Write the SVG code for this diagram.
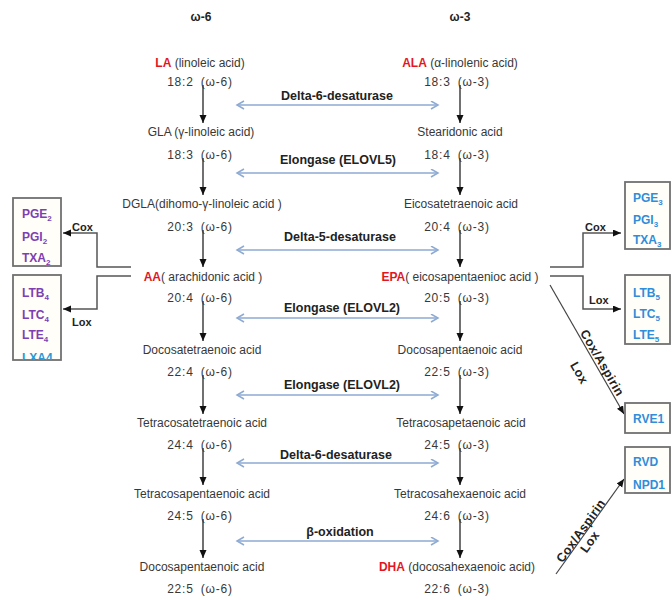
<svg xmlns="http://www.w3.org/2000/svg" width="672" height="600" viewBox="0 0 672 600">
<defs>
<style>
.t{font-family:"Liberation Sans",Arial,sans-serif;font-size:12px;fill:#383838;text-anchor:middle}
.q{font-family:"Liberation Sans",Arial,sans-serif;font-size:12px;fill:#383838;text-anchor:middle;word-spacing:3px;letter-spacing:0.8px}
.red{fill:#e3161f;font-weight:bold}
.h{font-family:"Liberation Sans",Arial,sans-serif;font-size:12px;font-weight:bold;fill:#222;text-anchor:middle}
.e{font-family:"Liberation Sans",Arial,sans-serif;font-size:12.5px;font-weight:bold;fill:#222;text-anchor:middle}
.l{font-family:"Liberation Sans",Arial,sans-serif;font-size:11px;font-weight:bold;fill:#222}
.dl{font-family:"Liberation Sans",Arial,sans-serif;font-size:12.5px;font-weight:bold;fill:#222;text-anchor:middle;letter-spacing:0.4px}
.p{font-family:"Liberation Sans",Arial,sans-serif;font-size:12px;font-weight:bold;fill:#7d3fb2}
.b{font-family:"Liberation Sans",Arial,sans-serif;font-size:12px;font-weight:bold;fill:#2f8dd9}
.box{fill:#fffef9;stroke:#707070;stroke-width:1.8}
.v{stroke:#111;stroke-width:1.2;fill:none;marker-end:url(#ah)}
.d{stroke:#8eaad2;stroke-width:1.6;fill:none;marker-start:url(#ch);marker-end:url(#ch)}
.ca{stroke:#555;stroke-width:1.5;fill:none;marker-end:url(#ah)}
.g{stroke:#444;stroke-width:1.2;fill:none;marker-end:url(#ah)}
</style>
<marker id="ah" markerUnits="userSpaceOnUse" markerWidth="9" markerHeight="8" refX="8" refY="3.5" orient="auto">
<path d="M0,0 L8,3.5 L0,7 z" fill="#111"/>
</marker>
<marker id="ch" markerUnits="userSpaceOnUse" markerWidth="10" markerHeight="10" refX="8" refY="4.5" orient="auto-start-reverse">
<path d="M1,0.5 L8,4.5 L1,8.5" fill="none" stroke="#8eaad2" stroke-width="1.5"/>
</marker>
<clipPath id="clipL2"><rect x="13" y="275" width="48" height="85"/></clipPath>
</defs>
<rect width="672" height="600" fill="#fff"/>

<g id="headers">
<text class="h" x="201" y="21">ω-6</text>
<text class="h" x="460" y="21">ω-3</text>
</g>

<g id="connectors">
<line class="v" x1="203" y1="85" x2="203" y2="123"/>
<line class="v" x1="203" y1="158" x2="203" y2="195"/>
<line class="v" x1="203" y1="230" x2="203" y2="267"/>
<line class="v" x1="203" y1="301" x2="203" y2="341"/>
<line class="v" x1="203" y1="375" x2="203" y2="414"/>
<line class="v" x1="203" y1="448" x2="203" y2="485"/>
<line class="v" x1="203" y1="519" x2="203" y2="558"/>
<line class="v" x1="460" y1="85" x2="460" y2="123"/>
<line class="v" x1="460" y1="158" x2="460" y2="195"/>
<line class="v" x1="460" y1="230" x2="460" y2="267"/>
<line class="v" x1="460" y1="301" x2="460" y2="341"/>
<line class="v" x1="460" y1="375" x2="460" y2="414"/>
<line class="v" x1="460" y1="448" x2="460" y2="485"/>
<line class="v" x1="460" y1="519" x2="460" y2="558"/>

<line class="d" x1="237" y1="105" x2="438" y2="105"/>
<line class="d" x1="237" y1="173" x2="438" y2="173"/>
<line class="d" x1="237" y1="250" x2="438" y2="250"/>
<line class="d" x1="237" y1="318" x2="438" y2="318"/>
<line class="d" x1="237" y1="395" x2="438" y2="395"/>
<line class="d" x1="237" y1="463" x2="438" y2="463"/>
<line class="d" x1="237" y1="541" x2="438" y2="541"/>

<polyline class="ca" points="131,267 97,267 97,233 63,233"/>
<polyline class="ca" points="131,276 97,276 97,309 63,309"/>
<polyline class="ca" points="550,267 583,267 583,233 621,233"/>
<polyline class="ca" points="550,276 583,276 583,309 621,309"/>
<line class="g" x1="550" y1="285" x2="624" y2="414"/>
<line class="g" x1="556" y1="574" x2="624" y2="479"/>

<text class="l" x="72" y="231">Cox</text>
<text class="l" x="72" y="326">Lox</text>
<text class="l" x="585" y="231">Cox</text>
<text class="l" x="589" y="304">Lox</text>

<text class="e" x="337" y="100">Delta-6-desaturase</text>
<text class="e" x="338" y="164">Elongase (ELOVL5)</text>
<text class="e" x="340" y="241">Delta-5-desaturase</text>
<text class="e" x="342" y="312">Elongase (ELOVL2)</text>
<text class="e" x="342" y="389">Elongase (ELOVL2)</text>
<text class="e" x="336" y="459">Delta-6-desaturase</text>
<text class="e" x="340" y="536">β-oxidation</text>

<g transform="translate(602,363) rotate(59.8)"><text class="dl" x="0" y="4">Cox/Aspirin</text></g>
<g transform="translate(579,373) rotate(59.8)"><text class="dl" x="0" y="4">Lox</text></g>
<g transform="translate(581,531) rotate(-54.3)"><text class="dl" x="0" y="4">Cox/Aspirin</text></g>
<g transform="translate(590,542) rotate(-54.3)"><text class="dl" x="0" y="4">Lox</text></g>
</g>

<g id="n6-1"><text class="t" x="200" y="67"><tspan class="red">LA</tspan> (linoleic acid)</text><text class="q" x="200" y="86">18:2 (ω-6)</text></g>
<g id="n6-2"><text class="t" x="201" y="136">GLA (γ-linoleic acid)</text><text class="q" x="200" y="159">18:3 (ω-6)</text></g>
<g id="n6-3"><text class="t" x="202" y="208">DGLA(dihomo-γ-linoleic acid )</text><text class="q" x="200" y="231">20:3 (ω-6)</text></g>
<g id="n6-4"><text class="t" x="203" y="281"><tspan class="red">AA</tspan>( arachidonic acid )</text><text class="q" x="200" y="302">20:4 (ω-6)</text></g>
<g id="n6-5"><text class="t" x="202" y="354">Docosatetraenoic acid</text><text class="q" x="200" y="376">22:4 (ω-6)</text></g>
<g id="n6-6"><text class="t" x="202" y="427">Tetracosatetraenoic acid</text><text class="q" x="200" y="449">24:4 (ω-6)</text></g>
<g id="n6-7"><text class="t" x="202" y="498">Tetracosapentaenoic acid</text><text class="q" x="200" y="520">24:5 (ω-6)</text></g>
<g id="n6-8"><text class="t" x="202" y="571">Docosapentaenoic acid</text><text class="q" x="200" y="593">22:5 (ω-6)</text></g>

<g id="n3-1"><text class="t" x="460" y="67"><tspan class="red">ALA</tspan> (α-linolenic acid)</text><text class="q" x="457" y="86">18:3 (ω-3)</text></g>
<g id="n3-2"><text class="t" x="460" y="136">Stearidonic acid</text><text class="q" x="457" y="159">18:4 (ω-3)</text></g>
<g id="n3-3"><text class="t" x="461" y="208">Eicosatetraenoic acid</text><text class="q" x="457" y="231">20:4 (ω-3)</text></g>
<g id="n3-4"><text class="t" x="460" y="281"><tspan class="red">EPA</tspan>( eicosapentaenioc acid )</text><text class="q" x="457" y="302">20:5 (ω-3)</text></g>
<g id="n3-5"><text class="t" x="460" y="354">Docosapentaenoic acid</text><text class="q" x="457" y="376">22:5 (ω-3)</text></g>
<g id="n3-6"><text class="t" x="461" y="427">Tetracosapetaenoic acid</text><text class="q" x="457" y="449">24:5 (ω-3)</text></g>
<g id="n3-7"><text class="t" x="460" y="498">Tetracosahexaenoic acid</text><text class="q" x="457" y="520">24:6 (ω-3)</text></g>
<g id="n3-8"><text class="t" x="457" y="571"><tspan class="red">DHA</tspan> (docosahexaenoic acid)</text><text class="q" x="457" y="593">22:6 (ω-3)</text></g>

<g id="box-aa-cox">
<rect class="box" x="13" y="198" width="48" height="68"/>
<text class="p" x="22" y="218">PGE<tspan font-size="8" dy="3">2</tspan></text>
<text class="p" x="22" y="241">PGI<tspan font-size="8" dy="3">2</tspan></text>
<text class="p" x="22" y="262">TXA<tspan font-size="8" dy="3">2</tspan></text>
</g>
<g id="box-aa-lox">
<rect class="box" x="13" y="275" width="48" height="85"/>
<g clip-path="url(#clipL2)">
<text class="p" x="22" y="297">LTB<tspan font-size="8" dy="3">4</tspan></text>
<text class="p" x="22" y="319">LTC<tspan font-size="8" dy="3">4</tspan></text>
<text class="p" x="22" y="339">LTE<tspan font-size="8" dy="3">4</tspan></text>
<text class="b" x="22" y="362" style="fill:#2a9ad6">LXA4</text>
</g>
</g>
<g id="box-epa-cox">
<rect class="box" x="625" y="182" width="45" height="67"/>
<text class="b" x="633" y="202">PGE<tspan font-size="8" dy="3">3</tspan></text>
<text class="b" x="633" y="224">PGI<tspan font-size="8" dy="3">3</tspan></text>
<text class="b" x="633" y="244">TXA<tspan font-size="8" dy="3">3</tspan></text>
</g>
<g id="box-epa-lox">
<rect class="box" x="625" y="275" width="45" height="69"/>
<text class="b" x="633" y="297">LTB<tspan font-size="8" dy="3">5</tspan></text>
<text class="b" x="633" y="318">LTC<tspan font-size="8" dy="3">5</tspan></text>
<text class="b" x="633" y="339">LTE<tspan font-size="8" dy="3">5</tspan></text>
</g>
<g id="box-rve1">
<rect class="box" x="625" y="403" width="45" height="30"/>
<text class="b" x="633" y="423">RVE1</text>
</g>
<g id="box-rvd">
<rect class="box" x="625" y="447" width="45" height="46"/>
<text class="b" x="633" y="466">RVD</text>
<text class="b" x="633" y="489">NPD1</text>
</g>
</svg>
